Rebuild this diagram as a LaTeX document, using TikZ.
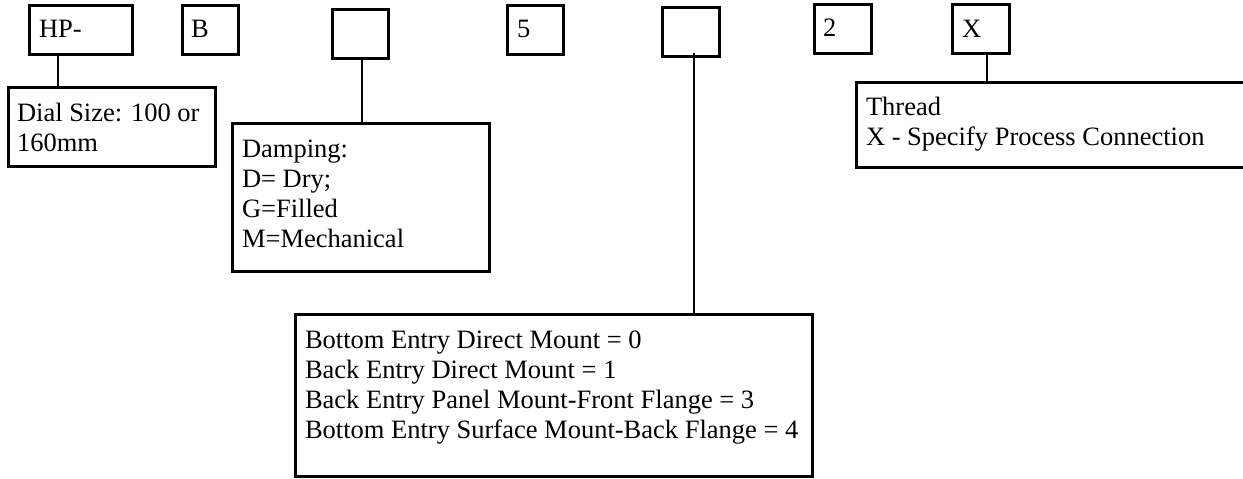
\documentclass[tikz,border=0pt]{standalone}
\usepackage{fontspec}
\setmainfont{Liberation Serif}
\usetikzlibrary{calc}
\begin{document}
\begin{tikzpicture}[x=1pt,y=-1pt,
  box/.style={draw, line width=3pt, anchor=north west, inner sep=0pt, outer sep=0pt, rectangle},
  lbl/.style={anchor=north west, inner sep=0pt, outer sep=0pt, align=left, font=\fontsize{26.5}{30}\selectfont},
  conn/.style={line width=1.3pt}]
\useasboundingbox (0,0) rectangle (1243,479);
\clip (0,0) rectangle (1243,479);
% top code boxes
\node[box, minimum width=103pt, minimum height=49pt] (hp) at (29.5,5.5) {};
\node[box, minimum width=56pt, minimum height=49pt] (b) at (182.5,5.5) {};
\node[box, minimum width=56pt, minimum height=49pt] (e3) at (332.5,9.5) {};
\node[box, minimum width=56pt, minimum height=49pt] (five) at (507.5,5.5) {};
\node[box, minimum width=57pt, minimum height=49pt] (e5) at (662.5,7.5) {};
\node[box, minimum width=57pt, minimum height=49pt] (two) at (814.5,4.5) {};
\node[box, minimum width=57pt, minimum height=49pt] (xb) at (952.5,4.5) {};
\node[lbl] (hpt) at (39,16) {\strut HP-};
\node[lbl] (bt) at (191,16) {\strut B};
\node[lbl] (fivet) at (517,17) {\strut 5};
\node[lbl] (twot) at (823,15) {\strut 2};
\node[lbl] (xt) at (962,16) {\strut X};
% description boxes
\node[box, minimum width=207pt, minimum height=79pt] (dial) at (8.5,87.5) {};
\node[box, minimum width=257pt, minimum height=148pt] (damp) at (232.5,123.5) {};
\node[box, minimum width=420pt, minimum height=85pt] (thread) at (856.5,82.5) {};
\node[box, minimum width=517pt, minimum height=162pt] (big) at (295.5,314.5) {};
\node[lbl] (dialt) at (17,100) {\strut Dial Size: 100 or\\\strut 160mm};
\node[lbl] (dampt) at (242,136) {\strut Damping:\\\strut D= Dry;\\\strut G=Filled\\\strut M=Mechanical};
\node[lbl] (threadt) at (866,94) {\strut Thread\\\strut X - Specify Process Connection};
\node[lbl] (bigt) at (305,327) {\strut Bottom Entry Direct Mount = 0\\\strut Back Entry Direct Mount = 1\\\strut Back Entry Panel Mount-Front Flange = 3\\\strut Bottom Entry Surface Mount-Back Flange = 4};
% connectors
\coordinate (l1) at (58,0);
\coordinate (l2) at (362,0);
\coordinate (l3) at (694,0);
\coordinate (l4) at (987,0);
\draw[conn] (l1 |- hp.south) -- (l1 |- dial.north);
\draw[conn] (l2 |- e3.south) -- (l2 |- damp.north);
\draw[conn] ($(l3 |- e5.south)+(0,-4)$) -- (l3 |- big.north);
\draw[conn] (l4 |- xb.south) -- (l4 |- thread.north);
\end{tikzpicture}
\end{document}
